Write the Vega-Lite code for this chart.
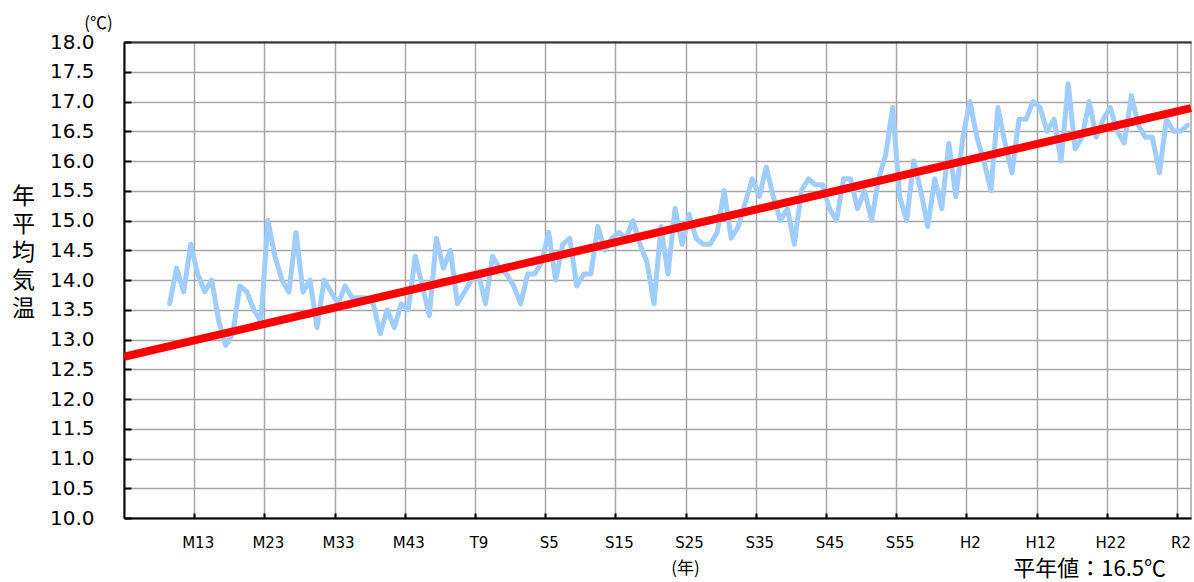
{
  "$schema": "https://vega.github.io/schema/vega-lite/v6.json",
  "width": 1067,
  "height": 476,
  "autosize": "none",
  "padding": {"left": 124, "top": 42, "right": 3, "bottom": 64},
  "background": "white",
  "config": {
    "view": {"stroke": "#a6a6a6", "strokeWidth": 1.5}
  },
  "title": {
    "text": "平年値：16.5℃",
    "orient": "bottom",
    "anchor": "end",
    "frame": "group",
    "font": "Noto Sans CJK JP",
    "fontSize": 22,
    "fontWeight": "normal",
    "color": "#000000",
    "dx": -25,
    "offset": -17
  },
  "datasets": {
    "temp": [
      {"year": 1876, "t": 13.6}, {"year": 1877, "t": 14.2}, {"year": 1878, "t": 13.8}, {"year": 1879, "t": 14.6},
      {"year": 1880, "t": 14.1}, {"year": 1881, "t": 13.8}, {"year": 1882, "t": 14.0}, {"year": 1883, "t": 13.3},
      {"year": 1884, "t": 12.9}, {"year": 1885, "t": 13.1}, {"year": 1886, "t": 13.9}, {"year": 1887, "t": 13.8},
      {"year": 1888, "t": 13.5}, {"year": 1889, "t": 13.3}, {"year": 1890, "t": 15.0}, {"year": 1891, "t": 14.4},
      {"year": 1892, "t": 14.0}, {"year": 1893, "t": 13.8}, {"year": 1894, "t": 14.8}, {"year": 1895, "t": 13.8},
      {"year": 1896, "t": 14.0}, {"year": 1897, "t": 13.2}, {"year": 1898, "t": 14.0}, {"year": 1899, "t": 13.8},
      {"year": 1900, "t": 13.6}, {"year": 1901, "t": 13.9}, {"year": 1902, "t": 13.7}, {"year": 1903, "t": 13.7},
      {"year": 1904, "t": 13.7}, {"year": 1905, "t": 13.6}, {"year": 1906, "t": 13.1}, {"year": 1907, "t": 13.5},
      {"year": 1908, "t": 13.2}, {"year": 1909, "t": 13.6}, {"year": 1910, "t": 13.5}, {"year": 1911, "t": 14.4},
      {"year": 1912, "t": 13.9}, {"year": 1913, "t": 13.4}, {"year": 1914, "t": 14.7}, {"year": 1915, "t": 14.2},
      {"year": 1916, "t": 14.5}, {"year": 1917, "t": 13.6}, {"year": 1918, "t": 13.8}, {"year": 1919, "t": 14.0},
      {"year": 1920, "t": 14.1}, {"year": 1921, "t": 13.6}, {"year": 1922, "t": 14.4}, {"year": 1923, "t": 14.2},
      {"year": 1924, "t": 14.1}, {"year": 1925, "t": 13.9}, {"year": 1926, "t": 13.6}, {"year": 1927, "t": 14.1},
      {"year": 1928, "t": 14.1}, {"year": 1929, "t": 14.3}, {"year": 1930, "t": 14.8}, {"year": 1931, "t": 14.0},
      {"year": 1932, "t": 14.6}, {"year": 1933, "t": 14.7}, {"year": 1934, "t": 13.9}, {"year": 1935, "t": 14.1},
      {"year": 1936, "t": 14.1}, {"year": 1937, "t": 14.9}, {"year": 1938, "t": 14.5}, {"year": 1939, "t": 14.7},
      {"year": 1940, "t": 14.8}, {"year": 1941, "t": 14.7}, {"year": 1942, "t": 15.0}, {"year": 1943, "t": 14.6},
      {"year": 1944, "t": 14.3}, {"year": 1945, "t": 13.6}, {"year": 1946, "t": 14.9}, {"year": 1947, "t": 14.1},
      {"year": 1948, "t": 15.2}, {"year": 1949, "t": 14.6}, {"year": 1950, "t": 15.1}, {"year": 1951, "t": 14.7},
      {"year": 1952, "t": 14.6}, {"year": 1953, "t": 14.6}, {"year": 1954, "t": 14.8}, {"year": 1955, "t": 15.5},
      {"year": 1956, "t": 14.7}, {"year": 1957, "t": 14.9}, {"year": 1958, "t": 15.3}, {"year": 1959, "t": 15.7},
      {"year": 1960, "t": 15.4}, {"year": 1961, "t": 15.9}, {"year": 1962, "t": 15.4}, {"year": 1963, "t": 15.0},
      {"year": 1964, "t": 15.2}, {"year": 1965, "t": 14.6}, {"year": 1966, "t": 15.5}, {"year": 1967, "t": 15.7},
      {"year": 1968, "t": 15.6}, {"year": 1969, "t": 15.6}, {"year": 1970, "t": 15.2}, {"year": 1971, "t": 15.0},
      {"year": 1972, "t": 15.7}, {"year": 1973, "t": 15.7}, {"year": 1974, "t": 15.2}, {"year": 1975, "t": 15.5},
      {"year": 1976, "t": 15.0}, {"year": 1977, "t": 15.7}, {"year": 1978, "t": 16.1}, {"year": 1979, "t": 16.9},
      {"year": 1980, "t": 15.4}, {"year": 1981, "t": 15.0}, {"year": 1982, "t": 16.0}, {"year": 1983, "t": 15.5},
      {"year": 1984, "t": 14.9}, {"year": 1985, "t": 15.7}, {"year": 1986, "t": 15.2}, {"year": 1987, "t": 16.3},
      {"year": 1988, "t": 15.4}, {"year": 1989, "t": 16.4}, {"year": 1990, "t": 17.0}, {"year": 1991, "t": 16.4},
      {"year": 1992, "t": 16.0}, {"year": 1993, "t": 15.5}, {"year": 1994, "t": 16.9}, {"year": 1995, "t": 16.3},
      {"year": 1996, "t": 15.8}, {"year": 1997, "t": 16.7}, {"year": 1998, "t": 16.7}, {"year": 1999, "t": 17.0},
      {"year": 2000, "t": 16.9}, {"year": 2001, "t": 16.5}, {"year": 2002, "t": 16.7}, {"year": 2003, "t": 16.0},
      {"year": 2004, "t": 17.3}, {"year": 2005, "t": 16.2}, {"year": 2006, "t": 16.4}, {"year": 2007, "t": 17.0},
      {"year": 2008, "t": 16.4}, {"year": 2009, "t": 16.7}, {"year": 2010, "t": 16.9}, {"year": 2011, "t": 16.5},
      {"year": 2012, "t": 16.3}, {"year": 2013, "t": 17.1}, {"year": 2014, "t": 16.6}, {"year": 2015, "t": 16.4},
      {"year": 2016, "t": 16.4}, {"year": 2017, "t": 15.8}, {"year": 2018, "t": 16.7}, {"year": 2019, "t": 16.5},
      {"year": 2020, "t": 16.5}, {"year": 2021, "t": 16.6}
    ],
    "trend": [
      {"year": 1869.5, "t": 12.71},
      {"year": 2021.5, "t": 16.89}
    ]
  },
  "layer": [
    {
      "data": {"name": "temp"},
      "mark": {"type": "line", "color": "#9fcdfd", "strokeWidth": 5, "strokeJoin": "round", "strokeCap": "round"},
      "encoding": {
        "x": {
          "field": "year",
          "type": "quantitative",
          "scale": {"domain": [1869.5, 2021.5], "nice": false, "zero": false},
          "axis": {
            "values": [1879.5, 1889.5, 1899.5, 1909.5, 1919.5, 1929.5, 1939.5, 1949.5, 1959.5, 1969.5, 1979.5, 1989.5, 1999.5, 2009.5, 2019.5],
            "labelExpr": "['M13','M23','M33','M43','T9','S5','S15','S25','S35','S45','S55','H2','H12','H22','R2'][round((datum.value-1879.5)/10)]",
            "labelOffset": 3.5,
            "labelOverlap": false,
            "labelFlush": false,
            "labelFont": "DejaVu Sans",
            "labelFontSize": 15,
            "labelColor": "#000000",
            "labelPadding": 22,
            "grid": true,
            "gridColor": "#a6a6a6",
            "gridWidth": 1.5,
            "domainColor": "#000000",
            "domainWidth": 2,
            "tickColor": "#000000",
            "tickWidth": 2,
            "tickSize": -5,
            "title": "(年)",
            "titleFont": "Noto Sans CJK JP",
            "titleFontSize": 17,
            "titleFontWeight": "normal",
            "titleColor": "#000000",
            "titleX": 561,
            "titleY": 50,
            "titleAlign": "center",
            "titleBaseline": "middle"
          }
        },
        "y": {
          "field": "t",
          "type": "quantitative",
          "scale": {"domain": [10, 18], "nice": false, "zero": false},
          "axis": {
            "values": [10, 10.5, 11, 11.5, 12, 12.5, 13, 13.5, 14, 14.5, 15, 15.5, 16, 16.5, 17, 17.5, 18],
            "format": ".1f",
            "labelOverlap": false,
            "labelFlush": false,
            "labelFont": "DejaVu Sans",
            "labelFontSize": 20,
            "labelColor": "#000000",
            "labelPadding": 37,
            "grid": true,
            "gridColor": "#a6a6a6",
            "gridWidth": 1.5,
            "domainColor": "#000000",
            "domainWidth": 2,
            "tickColor": "#000000",
            "tickWidth": 2,
            "tickSize": -7,
            "title": ["年", "平", "均", "気", "温"],
            "titleFont": "Noto Sans CJK JP",
            "titleFontSize": 23,
            "titleFontWeight": "normal",
            "titleColor": "#000000",
            "titleAngle": 0,
            "titleLineHeight": 28,
            "titleX": -101,
            "titleY": 154,
            "titleAlign": "center",
            "titleBaseline": "middle"
          }
        }
      }
    },
    {
      "data": {"name": "trend"},
      "mark": {"type": "line", "color": "#ff0000", "strokeWidth": 8},
      "encoding": {
        "x": {
          "field": "year",
          "type": "quantitative",
          "scale": {"domain": [1869.5, 2021.5], "nice": false, "zero": false},
          "axis": {
            "orient": "top",
            "labels": false,
            "ticks": false,
            "grid": false,
            "domain": true,
            "domainColor": "#333333",
            "domainWidth": 2,
            "title": null
          }
        },
        "y": {
          "field": "t",
          "type": "quantitative",
          "scale": {"domain": [10, 18], "nice": false, "zero": false},
          "axis": {
            "orient": "left",
            "labels": false,
            "ticks": false,
            "grid": false,
            "domain": false,
            "title": "(℃)",
            "titleFont": "Noto Sans CJK JP",
            "titleFontSize": 17,
            "titleFontWeight": "normal",
            "titleColor": "#000000",
            "titleAngle": 0,
            "titleX": -26,
            "titleY": -19,
            "titleAlign": "center",
            "titleBaseline": "middle"
          }
        }
      }
    }
  ],
  "resolve": {"axis": {"x": "independent", "y": "independent"}}
}
